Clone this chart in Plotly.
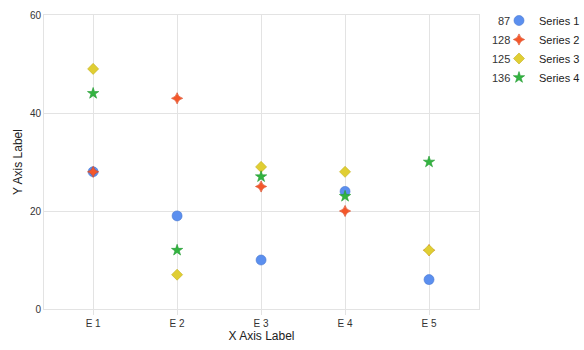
import plotly.graph_objects as go

categories = ["E 1", "E 2", "E 3", "E 4", "E 5"]
series_names = ["Series 1", "Series 2", "Series 3", "Series 4"]
s1 = [28, 19, 10, 24, 6]
s2 = [28, 43, 25, 20, 12]
s3 = [49, 7, 29, 28, 12]
s4 = [44, 12, 27, 23, 30]
series_values = [s1, s2, s3, s4]
y_ticks = [0, 20, 40, 60]

colors = ["#5B8FEF", "#F4572A", "#E0CE33", "#33B440"]
lines = ["#4A78D0", "#D8401A", "#C2B020", "#229A30"]
symbols = ["circle", "star-diamond", "diamond", "star"]
sizes = [10, 8, 8.5, 8.5]

L, R, T, B = 44, 105, 15, 41
W, H = 584, 350
pw, ph = W - L - R, H - T - B

fig = go.Figure()
xs = list(range(len(categories)))
for name, vals, c, lc, sym, sz in zip(series_names, series_values, colors, lines, symbols, sizes):
    fig.add_trace(go.Scatter(
        x=xs, y=vals, mode="markers", name=name,
        marker=dict(color=c, symbol=sym, size=sz, line=dict(color=lc, width=0.6)),
    ))

# legend totals as text to the left of legend markers
row_px = [21, 40, 59, 78]
for i, vals in enumerate(series_values):
    fig.add_annotation(
        xref="paper", yref="paper", x=(512 - L) / pw, y=1 - (row_px[i] - T) / ph,
        xanchor="right", yanchor="middle",
        text=str(sum(vals)), showarrow=False,
        font=dict(size=11, color="#333333"),
    )

font_family = "Liberation Sans, Arial, sans-serif"
fig.update_layout(
    width=W, height=H,
    margin=dict(l=L, r=R, t=T, b=B, autoexpand=False),
    paper_bgcolor="white", plot_bgcolor="white",
    font=dict(family=font_family, size=11, color="#333333"),
    showlegend=True,
    legend=dict(xref="container", yref="container", x=499 / W, y=1 - 6 / H,
                xanchor="left", yanchor="top", font=dict(size=11, color="#222222"),
                tracegroupgap=0, bgcolor="rgba(0,0,0,0)"),
    xaxis=dict(
        tickmode="array", tickvals=xs, ticktext=categories,
        range=[-0.585, 4.595], showgrid=True, gridcolor="#E3E3E3", gridwidth=1,
        zeroline=False, showline=True, linecolor="#E3E3E3", mirror=True,
        ticks="outside", ticklen=5, tickcolor="#E3E3E3", automargin=True,
        title=dict(text="X Axis Label", font=dict(size=12, color="#222222"), standoff=2),
        tickfont=dict(size=10, color="#333333"),
    ),
    yaxis=dict(
        tickmode="array", tickvals=y_ticks, range=[0, 60],
        showgrid=True, gridcolor="#E3E3E3", gridwidth=1,
        zeroline=False, showline=True, linecolor="#E3E3E3", mirror=True, automargin=True,
        ticks="", title=dict(text="Y Axis Label", font=dict(size=12, color="#222222"), standoff=4),
        tickfont=dict(size=10, color="#333333"),
    ),
)

fig.write_html("out.html")
